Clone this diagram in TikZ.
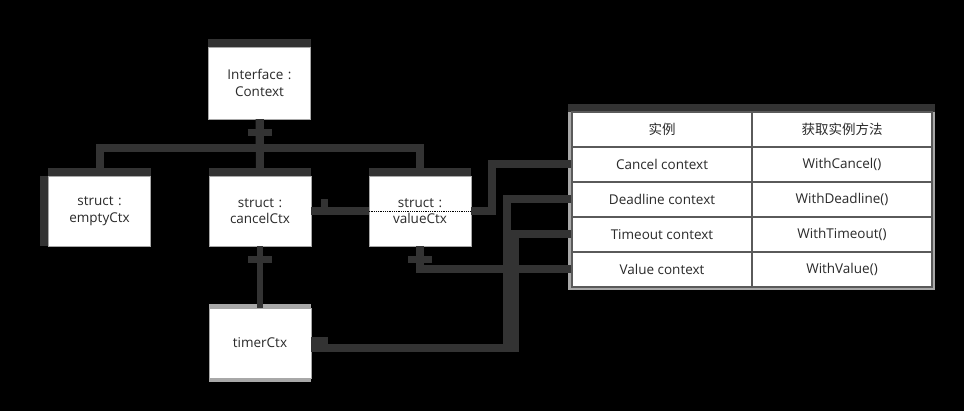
\documentclass[tikz,border=0pt]{standalone}
\usepackage{fontspec}
\setmainfont{Open Sans}
\newfontfamily\cjk{Noto Sans CJK SC}
\usepackage{xcolor}
\usetikzlibrary{positioning}
\definecolor{linkgray}{HTML}{333333}
\definecolor{framegray}{HTML}{A8A8A8}
\definecolor{cellgray}{HTML}{5A5A5A}
\definecolor{textgray}{HTML}{2A2A2A}
\tikzstyle{link} = [line width=8pt, draw=linkgray]
\tikzstyle{tick} = [line width=7pt, draw=linkgray]
\tikzstyle{topbar} = [line width=8pt, draw=linkgray]
\tikzstyle{lightbar} = [line width=4pt, draw=framegray]

\begin{document}
\begin{tikzpicture}[x=1pt, y=-1pt]
		\fill[black] (0,0) rectangle (964,411);
		\useasboundingbox (0,0) rectangle (964,411);
		\coordinate (interface) at (259.5,83);
		\coordinate (emptyctx) at (99.5,211);
		\coordinate (cancelctx) at (260,211);
		\coordinate (valuectx) at (420,211);
		\coordinate (timerctx) at (260,343);
		% Context types
		\begin{scope}[every node/.style={draw=framegray, fill=white, rectangle, minimum width=102pt, minimum height=70pt, text width=90pt, align=center, text=textgray, font=\fontsize{13.5}{16.5}\selectfont}]
		\node[name=interface, minimum height=72pt] at (interface) {Interface :\\Context};
		\node[name=emptyctx] at (emptyctx) {struct :\\emptyCtx};
		\node[name=cancelctx] at (cancelctx) {struct :\\cancelCtx};
		\node[name=valuectx] at (valuectx) {struct :\\valueCtx};
		\node[name=timerctx] at (timerctx) {timerCtx};
		\end{scope}
		% thick tops
		\draw[topbar] ([yshift=4pt]interface.north west) -- ([yshift=4pt]interface.north east);
		\draw[topbar] ([yshift=4pt]emptyctx.north west) -- ([yshift=4pt]emptyctx.north east);
		\draw[topbar] ([xshift=-4pt]emptyctx.north west) -- ([xshift=-4pt]emptyctx.south west);
		\draw[topbar] ([yshift=4pt]cancelctx.north west) -- ([yshift=4pt]cancelctx.north east);
		\draw[topbar] ([yshift=4pt]valuectx.north west) -- ([yshift=4pt]valuectx.north east);
		\draw[lightbar] ([yshift=2pt]timerctx.north west) -- ([yshift=2pt]timerctx.north east);
		\draw[lightbar] ([yshift=-2pt]timerctx.south west) -- ([yshift=-2pt]timerctx.south east);
		\draw[densely dotted, thick, black] (valuectx.west) -- (valuectx.east);
		% Table
		\fill[framegray] (568,108) rectangle (935,290);
		\draw[topbar] (568,108) -- (935,108);
		\begin{scope}[every node/.style={draw=cellgray, fill=white, line width=1.2pt, rectangle, minimum width=180pt, minimum height=35pt, inner sep=0pt, text=textgray, font=\fontsize{13.5}{16}\selectfont}]
		\node[name=headA] at (662,129.5) {\cjk 实例};
		\node[name=headB] at (842,129.5) {\cjk 获取实例方法};
		\node[name=cancelA] at (662,164.5) {Cancel context};
		\node[name=cancelB] at (842,164.5) {WithCancel()};
		\node[name=deadA] at (662,199.5) {Deadline context};
		\node[name=deadB] at (842,199.5) {WithDeadline()};
		\node[name=timeA] at (662,234.5) {Timeout context};
		\node[name=timeB] at (842,234.5) {WithTimeout()};
		\node[name=valA] at (662,269.5) {Value context};
		\node[name=valB] at (842,269.5) {WithValue()};
		\end{scope}
		% Connectors
		\draw[link] (interface.south) -- (cancelctx.north);
		\draw[link] (interface.south) -- ++(0,29) -| (emptyctx.north);
		\draw[link] (interface.south) -- ++(0,29) -| (valuectx.north);
		\draw[link] (cancelctx.east) -- (valuectx.west);
		\draw[link, line width=6pt] (cancelctx.south) -- (timerctx.north);
		\draw[link] (valuectx.east) -- ++(21,0) |- (cancelA.west);
		\draw[link] (deadA.west) -- ++(-64,0) |- ([yshift=-5pt]timerctx.east);
		\draw[link] (timeA.west) -- ++(-56,0) |- ([yshift=-5pt]timerctx.east);
		\draw[link] (valA.west) -| (valuectx.south);
		% ticks
		\draw[tick] (interface.south) ++(-12,13) -- ++(24,0);
		\draw[tick] (cancelctx.south) ++(-12,13) -- ++(24,0);
		\draw[tick] (valuectx.south) ++(-12,13) -- ++(24,0);
		\draw[tick] (cancelctx.east) ++(13,-3) -- ++(0,-9);
		\draw[tick] (timerctx.east) ++(0,-2) -- ++(17,0);
		\end{tikzpicture}
\end{document}
